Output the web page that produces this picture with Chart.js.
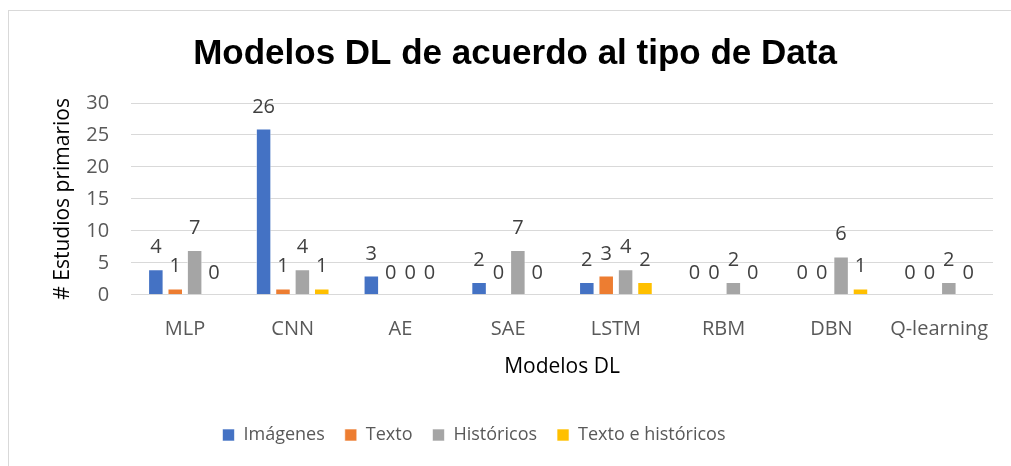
<!DOCTYPE html>
<html>
<head>
<meta charset="utf-8">
<script src="https://cdn.jsdelivr.net/npm/chart.js@4.4.0/dist/chart.umd.min.js"></script>
<style>
  html, body { margin: 0; padding: 0; background: #fff; }
  #wrap { position: relative; width: 1011px; height: 466px; overflow: hidden; }
  #frame { position: absolute; left: 8px; top: 10px; width: 1100px; height: 600px;
           border: 1px solid #d9d9d9; box-sizing: border-box; pointer-events: none; }
  canvas { position: absolute; left: 0; top: 0; }
</style>
</head>
<body>
<div id="wrap">
  <canvas id="chart" width="1011" height="466"></canvas>
  <div id="frame"></div>
</div>
<script>
var categories = ['MLP', 'CNN', 'AE', 'SAE', 'LSTM', 'RBM', 'DBN', 'Q-learning'];
var imagenes   = [4, 26, 3, 2, 2, 0, 0, 0];
var texto      = [1, 1, 0, 0, 3, 0, 0, 0];
var historicos = [7, 4, 0, 7, 4, 2, 6, 2];
var textoHist  = [0, 1, 0, 0, 2, 0, 1, 0];
var yTicks     = [0, 5, 10, 15, 20, 25, 30];

var labelFont = '"Open Sans", "DejaVu Sans", sans-serif';

// draws the value above each bar (no datalabels plugin available offline)
var valueLabels = {
    id: 'valueLabels',
    afterDatasetsDraw: function(chart){
        var ctx = chart.ctx;
        ctx.save();
        ctx.font = '20px ' + labelFont;
        ctx.fillStyle = '#404040';
        ctx.textAlign = 'center';
        ctx.textBaseline = 'alphabetic';
        chart.data.datasets.forEach(function(ds, i){
            chart.getDatasetMeta(i).data.forEach(function(bar, j){
                ctx.fillText(ds.data[j], bar.x, bar.y - 16);
            });
        });
        ctx.restore();
    }
};

// legend in the original sits left of the chart centre
var legendShift = {
    id: 'legendShift',
    afterLayout: function(chart){
        chart.legend.right -= 82;
    }
};

function makeSet(label, data, color){
    return {
        label: label,
        data: data,
        backgroundColor: color,
        borderColor: 'rgba(255,255,255,0.6)',
        borderWidth: 1,
        categoryPercentage: 0.72,
        barPercentage: 0.8
    };
}

new Chart(document.getElementById('chart').getContext('2d'), {
    type: 'bar',
    data: {
        labels: categories,
        datasets: [
            makeSet('Imágenes', imagenes, '#4472C4'),
            makeSet('Texto', texto, '#ED7D31'),
            makeSet('Históricos', historicos, '#A5A5A5'),
            makeSet('Texto e históricos', textoHist, '#FFC000')
        ]
    },
    options: {
        responsive: false,
        animation: false,
        layout: { padding: { left: 37, right: 18, top: 0, bottom: 12 } },
        plugins: {
            title: {
                display: true,
                text: 'Modelos DL de acuerdo al tipo de Data',
                color: '#000',
                font: { family: '"Liberation Sans", Arial, sans-serif', size: 35, weight: 'bold' },
                padding: { top: 33, bottom: 28 }
            },
            legend: {
                position: 'bottom',
                labels: {
                    boxWidth: 12,
                    boxHeight: 12,
                    padding: 20,
                    color: '#595959',
                    font: { family: labelFont, size: 18 }
                }
            },
            tooltip: { enabled: false }
        },
        scales: {
            x: {
                grid: { display: false },
                border: { display: false },
                ticks: { color: '#595959', font: { family: labelFont, size: 20 }, padding: 14 },
                title: {
                    display: true,
                    text: 'Modelos DL',
                    color: '#000',
                    font: { family: labelFont, size: 21 },
                    padding: { top: 0, bottom: 26 }
                }
            },
            y: {
                min: yTicks[0],
                max: yTicks[yTicks.length - 1],
                grid: { color: '#d9d9d9', drawTicks: false },
                border: { display: false },
                ticks: { color: '#595959', font: { family: labelFont, size: 20 }, padding: 22,
                         stepSize: yTicks[1] - yTicks[0] },
                title: {
                    display: true,
                    text: '# Estudios primarios',
                    color: '#000',
                    font: { family: labelFont, size: 21 },
                    padding: { top: 13, bottom: -11 }
                }
            }
        }
    },
    plugins: [valueLabels, legendShift]
});
</script>
</body>
</html>
